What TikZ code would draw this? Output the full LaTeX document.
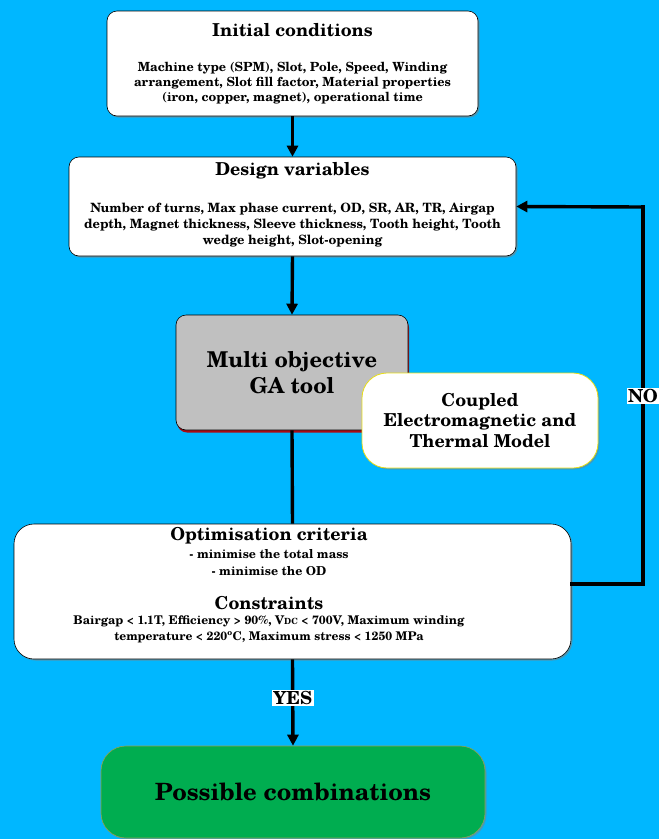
\documentclass[tikz,border=0pt]{standalone}
\usepackage{fontspec}
\setmainfont{TeX Gyre Schola}
\usetikzlibrary{arrows.meta,shadows,positioning}
\definecolor{bg}{RGB}{0,183,255}
\definecolor{gabox}{RGB}{192,192,192}
\definecolor{gashadow}{RGB}{170,10,20}
\definecolor{greenbox}{RGB}{0,173,80}
\definecolor{greenedge}{RGB}{150,160,80}
\tikzset{
  whitebox/.style={draw=black, line width=0.6pt, fill=white, rounded corners=10pt,
    drop shadow={shadow xshift=1.5pt, shadow yshift=-1.5pt, opacity=0.6}},
  gastyle/.style={draw=black, line width=0.6pt, fill=gabox, rounded corners=10pt,
    drop shadow={shadow xshift=1pt, shadow yshift=-2.5pt, fill=gashadow, opacity=1}},
  modelbox/.style={draw=yellow!90!black, line width=0.8pt, fill=white, rounded corners=25pt,
    drop shadow={shadow xshift=1.5pt, shadow yshift=-1.5pt, opacity=0.5}},
  greenstyle/.style={draw=greenedge, line width=0.6pt, fill=greenbox, rounded corners=25pt,
    drop shadow={shadow xshift=1.5pt, shadow yshift=-1.5pt, opacity=0.5}},
  flow/.style={line width=3.4pt, -{Triangle[length=11pt,width=11pt]}},
  plain/.style={line width=3.4pt},
  ttl/.style={font=\bfseries\fontsize{17.8}{20}\selectfont, inner sep=0pt},
  bodytxt/.style={font=\bfseries\fontsize{12.6}{15.3}\selectfont, align=center, inner sep=0pt},
  tag/.style={fill=white, font=\bfseries\fontsize{18}{20}\selectfont, inner sep=1.5pt},
}
\begin{document}
\begin{tikzpicture}[x=1pt,y=-1pt]
\fill[bg] (0,0) rectangle (659,839);
\useasboundingbox (0,0) rectangle (659,839);

% boxes
\node[whitebox, minimum width=371pt, minimum height=105pt] (init) at (292.5,63.5) {};
\node[whitebox, minimum width=447pt, minimum height=99pt] (design) at (292.5,206.5) {};
\node[gastyle, minimum width=232pt, minimum height=115pt] (ga) at (292,372.5) {};
\node[modelbox, minimum width=236pt, minimum height=95pt] (model) at (480,420.5) {};
\node[whitebox, rounded corners=20pt, minimum width=557pt, minimum height=135pt] (opt) at (292.5,591.5) {};
\node[greenstyle, minimum width=384pt, minimum height=92pt] (poss) at (293,792) {};

% texts
\node[ttl] (initT) at (292.5,30) {Initial conditions};
\node[bodytxt] (initB) at (292.5,83) {Machine type (SPM), Slot, Pole, Speed, Winding\\arrangement, Slot fill factor, Material properties\\(iron, copper, magnet), operational time};

\node[ttl] (designT) at (292.5,171) {Design variables};
\node[bodytxt, font=\bfseries\fontsize{12.8}{16}\selectfont] (designB) at (292.5,225) {Number of turns, Max phase current, OD, SR, AR, TR, Airgap\\depth, Magnet thickness, Sleeve thickness, Tooth height, Tooth\\wedge height, Slot-opening};

\node[font=\bfseries\fontsize{21.8}{26}\selectfont, align=center, inner sep=0pt] (gaT) at (292,373) {Multi objective\\GA tool};

\node[font=\bfseries\fontsize{17.8}{20.5}\selectfont, align=center, inner sep=0pt] (modelT) at (480,420.5) {Coupled\\Electromagnetic and\\Thermal Model};

\node[ttl] (optT) at (269,536) {Optimisation criteria};
\node[bodytxt, font=\bfseries\fontsize{12.3}{17}\selectfont] (optB) at (269,562.5) {- minimise the total mass\\- minimise the OD};
\node[ttl] (consT) at (269,603) {Constraints};
\node[bodytxt, font=\bfseries\fontsize{12}{16}\selectfont] (consB) at (269,629) {Bairgap < 1.1T, Efficiency > 90\%, V{\fontsize{8.5}{9}\selectfont DC} < 700V, Maximum winding\\temperature < 220\textsuperscript{o}C, Maximum stress < 1250 MPa};

\node[font=\bfseries\fontsize{23.8}{28}\selectfont, inner sep=0pt] (possT) at (293,792) {Possible combinations};

% connectors
\draw[flow] (init.south) -- (design.north);
\draw[flow] (design.south) -- (ga.north);
\draw[plain] (ga.south) -- (opt.north);
\draw[flow] (opt.south) -- node[tag, pos=0.45] (yes) {YES} (poss.north);
\coordinate (c1) at (643,584);
\coordinate (c2) at (643,207);
\draw[plain, line cap=rect] (opt.east |- c1) -- (c1) -- (c2);
\draw[flow] (c2) -- (design.east);
\node[tag] (no) at (643,396) {NO};
\end{tikzpicture}
\end{document}
